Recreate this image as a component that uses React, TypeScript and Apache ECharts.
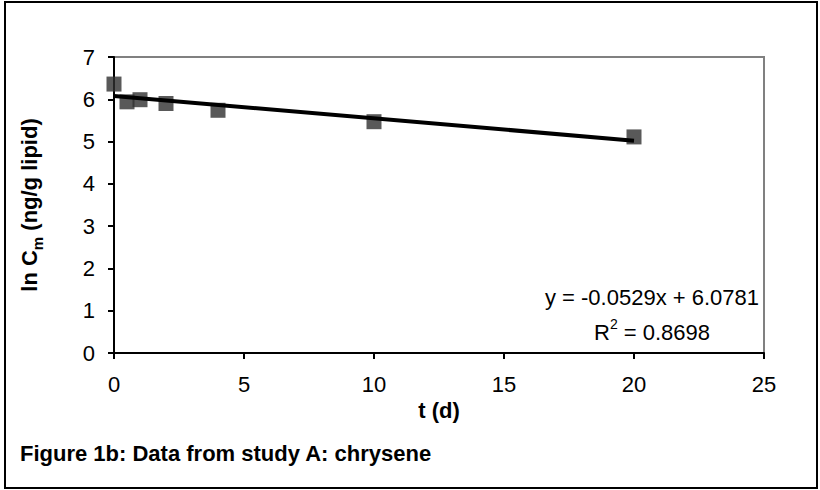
import React, { useEffect, useRef } from "react";
import * as echarts from "echarts";

// Sampling times (days) and measured ln Cm values (ng/g lipid)
const times: number[] = [0, 0.5, 1, 2, 4, 10, 20];
const lnCm: number[] = [6.36, 5.94, 5.99, 5.9, 5.74, 5.47, 5.11];

// Linear regression fitted to the points
const slope = -0.0529;
const intercept = 6.0781;
const rSquared = 0.8698;
const fitRange: number[] = [0, 20];

const xTicks = { min: 0, max: 25, interval: 5 };
const yTicks = { min: 0, max: 7, interval: 1 };

const caption = "Figure 1b: Data from study A: chrysene";
const xName = "t (d)";

const FONT = "'Liberation Sans', Arial, Helvetica, sans-serif";

export default function App() {
  const ref = useRef<HTMLDivElement>(null);

  useEffect(() => {
    if (!ref.current) return;
    const chart = echarts.init(ref.current, null, { renderer: "svg" });

    const points = times.map((t, i) => [t, lnCm[i]]);
    const fitLine = fitRange.map((t) => [t, slope * t + intercept]);
    const eqText = `y = ${slope.toFixed(4)}x + ${intercept.toFixed(4)}`;

    chart.setOption({
      animation: false,
      backgroundColor: "#ffffff",
      textStyle: { fontFamily: FONT },
      grid: {
        left: 114,
        right: 56,
        top: 57,
        bottom: 137,
        show: true,
        borderColor: "#808080",
        borderWidth: 2,
        backgroundColor: "transparent",
      },
      xAxis: {
        type: "value",
        min: xTicks.min,
        max: xTicks.max,
        interval: xTicks.interval,
        name: xName,
        nameLocation: "middle",
        nameGap: 46,
        nameTextStyle: { fontFamily: FONT, fontSize: 22, fontWeight: "bold", color: "#000" },
        axisLine: { show: true, onZero: false, lineStyle: { color: "#000", width: 2 } },
        axisTick: { show: true, inside: false, length: 6, lineStyle: { color: "#000", width: 2 } },
        axisLabel: { fontFamily: FONT, fontSize: 22, color: "#000", margin: 20 },
        splitLine: { show: false },
      },
      yAxis: {
        type: "value",
        min: yTicks.min,
        max: yTicks.max,
        interval: yTicks.interval,
        name: "{a|ln C}{sub|m}{a| (ng/g lipid)}",
        nameLocation: "middle",
        nameGap: 69,
        nameRotate: 90,
        nameTextStyle: {
          fontFamily: FONT,
          fontSize: 22,
          fontWeight: "bold",
          color: "#000",
          rich: {
            a: { fontFamily: FONT, fontSize: 22, fontWeight: "bold", color: "#000", lineHeight: 32, verticalAlign: "middle" },
            sub: { fontFamily: FONT, fontSize: 15, fontWeight: "bold", color: "#000", lineHeight: 32, verticalAlign: "bottom" },
          },
        },
        axisLine: { show: true, onZero: false, lineStyle: { color: "#000", width: 2 } },
        axisTick: { show: true, inside: false, length: 6, lineStyle: { color: "#000", width: 2 } },
        axisLabel: { fontFamily: FONT, fontSize: 22, color: "#000", margin: 19 },
        splitLine: { show: false },
      },
      series: [
        {
          type: "line",
          data: fitLine,
          showSymbol: false,
          symbol: "none",
          lineStyle: { color: "#000", width: 4 },
          silent: true,
          z: 3,
        },
        {
          type: "scatter",
          data: points,
          symbol: "rect",
          symbolSize: 15,
          itemStyle: { color: "#303030" },
          z: 2,
        },
      ],
      graphic: [
        {
          type: "rect",
          shape: { x: 5, y: 2, width: 812, height: 486 },
          style: { fill: "none", stroke: "#000", lineWidth: 2 },
          silent: true,
        },
        {
          type: "text",
          x: 652,
          y: 297,
          style: {
            text: eqText,
            font: `22px ${FONT}`,
            fill: "#000",
            textAlign: "center",
            textVerticalAlign: "middle",
          },
        },
        {
          type: "text",
          x: 652,
          y: 330,
          style: {
            text: `{a|R}{sup|2}{a| = ${rSquared.toFixed(4)}}`,
            fill: "#000",
            textAlign: "center",
            textVerticalAlign: "middle",
            rich: {
              a: { fontFamily: FONT, fontSize: 22, lineHeight: 26, verticalAlign: "bottom", fill: "#000" },
              sup: { fontFamily: FONT, fontSize: 14, lineHeight: 26, verticalAlign: "top", fill: "#000" },
            },
          },
        },
        {
          type: "text",
          x: 20,
          y: 453,
          style: {
            text: caption,
            font: `bold 22px ${FONT}`,
            fill: "#000",
            textAlign: "left",
            textVerticalAlign: "middle",
          },
        },
      ],
    });

    return () => chart.dispose();
  }, []);

  return (
    <div
      ref={ref}
      style={{ position: "fixed", left: 0, top: 0, width: 820, height: 490, background: "#fff" }}
    />
  );
}
